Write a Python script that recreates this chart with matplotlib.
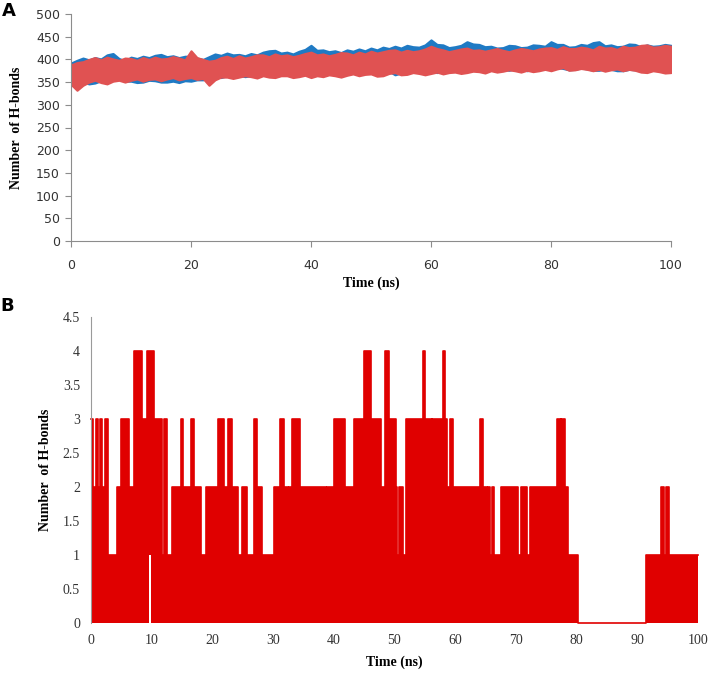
import numpy as np
import matplotlib.pyplot as plt
from matplotlib.ticker import FuncFormatter

# Panel A: envelopes of the two H-bond series (every 1 ns)
tA = np.arange(0, 101, 1)
blue_top = [392, 398, 403, 399, 404, 401, 410, 413, 402, 397, 405, 402, 407, 404, 409, 411, 406,
            408, 404, 407, 407, 403, 400, 406, 412, 409, 414, 410, 411, 408, 413, 410, 416, 419,
            420, 414, 416, 412, 418, 422, 431, 420, 421, 417, 419, 415, 421, 418, 423, 419, 425,
            421, 427, 424, 429, 425, 431, 428, 427, 432, 443, 433, 432, 426, 428, 431, 439, 434,
            433, 428, 429, 425, 426, 431, 430, 426, 427, 432, 431, 429, 439, 433, 433, 427, 428,
            433, 431, 437, 439, 430, 432, 428, 429, 434, 433, 428, 432, 429, 430, 433, 431]
blue_bot = [342, 347, 350, 346, 348, 353, 350, 355, 357, 352, 352, 349, 350, 354, 353, 350, 350,
            352, 349, 353, 352, 355, 355, 359, 362, 360, 364, 362, 365, 362, 364, 367, 366, 363,
            368, 365, 365, 369, 366, 368, 366, 369, 366, 370, 368, 366, 368, 371, 368, 372, 371,
            368, 371, 374, 366, 370, 369, 373, 372, 375, 374, 371, 373, 376, 374, 377, 375, 378,
            376, 379, 377, 380, 378, 376, 379, 381, 375, 378, 377, 380, 379, 382, 380, 377, 378,
            381, 379, 376, 376, 379, 378, 375, 375, 378, 377, 374, 375, 378, 376, 373, 374]
red_top = [388, 393, 395, 400, 404, 399, 405, 401, 398, 403, 402, 398, 404, 400, 405, 401, 402,
           406, 403, 399, 419, 404, 400, 396, 398, 404, 407, 402, 408, 403, 406, 410, 410, 406,
           412, 408, 410, 406, 409, 413, 416, 410, 412, 408, 411, 415, 414, 410, 416, 412, 418,
           414, 417, 420, 421, 416, 420, 417, 419, 423, 429, 424, 421, 417, 420, 423, 425, 420,
           421, 418, 421, 424, 420, 417, 421, 424, 422, 419, 423, 425, 426, 422, 428, 424, 424,
           427, 425, 421, 429, 425, 426, 422, 429, 426, 427, 431, 432, 427, 428, 431, 429]
red_bot = [345, 332, 343, 350, 354, 349, 346, 352, 354, 350, 354, 357, 352, 356, 357, 353, 357,
           360, 355, 358, 360, 356, 358, 343, 355, 361, 361, 358, 361, 364, 362, 359, 364, 361,
           360, 364, 364, 360, 362, 365, 360, 364, 362, 366, 364, 361, 365, 368, 364, 367, 368,
           363, 364, 369, 371, 366, 367, 371, 369, 366, 369, 372, 368, 371, 372, 369, 371, 374,
           373, 370, 375, 372, 374, 377, 375, 372, 376, 373, 375, 378, 375, 379, 382, 376, 377,
           380, 378, 375, 378, 374, 377, 379, 375, 378, 376, 372, 371, 375, 373, 370, 371]

# Panel B: step envelope (start time, max level, min level)
seg_start = [0, 0.33, 0.82, 1.21, 1.48, 1.76, 2.31, 2.78, 4.28, 4.94, 6.26, 7.14, 8.35, 9.17, 9.5,
             9.9, 10.45, 11.75, 12.08, 12.52, 13.4, 14.77, 15.21, 16.47, 16.97, 18.12, 18.89,
             20.98, 21.97, 22.63, 23.17, 24.27, 24.82, 25.76, 26.91, 27.35, 28.23, 30.21, 31.14,
             31.8, 32.4, 32.62, 33.06, 34.35, 38.7, 38.85, 40.04, 41.85, 43.33, 44.98, 46.07,
             47.72, 48.43, 49.09, 50.25, 50.47, 50.79, 51.45, 51.89, 54.64, 54.97, 56.12, 56.22,
             57.94, 58.38, 58.59, 59.14, 59.58, 64.08, 64.63, 65.18, 65.4, 65.73, 66.0, 66.39,
             67.5, 70.4, 70.8, 71.8, 72.3, 76.7, 77.4, 77.5, 78.1, 78.6, 80.3, 91.5, 93.9, 94.4,
             94.7, 95.2]
seg_level = [3, 2, 3, 2, 3, 2, 3, 1, 2, 3, 2, 4, 3, 4, 4,
             4, 3, 1, 3, 1, 2, 3, 2, 3, 2, 1, 2,
             3, 2, 3, 2, 1, 2, 1, 3, 2, 1, 2, 3,
             2, 1, 2, 3, 2, 1, 2, 3, 2, 3, 4, 3,
             2, 4, 3, 2, 1, 2, 1, 3, 4, 3, 2, 3,
             4, 3, 2, 3, 2, 3, 2, 1, 2, 1, 2, 1,
             2, 1, 2, 1, 2, 3, 2, 3, 2, 1, 0, 1, 2, 1,
             2, 1]
seg_low = [0] * len(seg_start)
seg_low[14] = 1

fig = plt.figure(figsize=(7.13, 6.78), dpi=100)

# ---- A ----
axA = fig.add_axes([71/713, 1-241/678, 600/713, 227/678])
axA.fill_between(tA, blue_bot, blue_top, color='#1f7ac4', lw=1.5, edgecolor='#1f7ac4')
axA.fill_between(tA, red_bot, red_top, color='#e05252', lw=1.5, edgecolor='#e05252')
axA.set_xlim(0, 100)
axA.set_ylim(0, 500)
axA.set_xticks(range(0, 101, 20))
axA.set_yticks(range(0, 501, 50))
for s in ['top', 'right']:
    axA.spines[s].set_visible(False)
for s in ['left', 'bottom']:
    axA.spines[s].set_color('#8c8c8c')
axA.tick_params(colors='#8c8c8c', labelcolor='#333333', labelsize=9, length=4, pad=4)
axA.tick_params(axis='x', pad=9)
axA.set_xlabel('Time (ns)', family='Liberation Serif', weight='bold', fontsize=10, labelpad=3)
axA.set_ylabel('Number  of H-bonds', family='Liberation Serif', weight='bold', fontsize=10, labelpad=9)

# ---- B ----
axB = fig.add_axes([91/713, 1-623/678, 607/713, 306/678])
xb = seg_start + [100]
up = seg_level + [seg_level[-1]]
lo = seg_low + [seg_low[-1]]
axB.fill_between(xb, lo, up, step='post', color='#e00000', lw=0)
axB.step(xb, up, where='post', color='#e00000', lw=1.2, clip_on=False)
axB.set_xlim(0, 100)
axB.set_ylim(0, 4.5)
axB.set_xticks(range(0, 101, 10))
axB.set_yticks(np.arange(0, 4.51, 0.5))
axB.yaxis.set_major_formatter(FuncFormatter(lambda v, p: '%g' % v))
for s in ['top', 'right', 'bottom']:
    axB.spines[s].set_visible(False)
axB.spines['left'].set_color('#9a9a9a')
axB.spines['left'].set_linewidth(0.8)
axB.tick_params(length=0, labelsize=10, pad=8, labelcolor='#333333')
for lab in axB.get_xticklabels() + axB.get_yticklabels():
    lab.set_family('Liberation Serif')
axB.set_xlabel('Time (ns)', family='Liberation Serif', weight='bold', fontsize=10, labelpad=6)
axB.set_ylabel('Number  of H-bonds', family='Liberation Serif', weight='bold', fontsize=10, labelpad=8)

fig.text(0.003, 1-11/678, 'A', fontsize=13, weight='bold', va='center')
fig.text(0.001, 1-306/678, 'B', fontsize=13, weight='bold', va='center')

fig.savefig('out.png', dpi=100)
